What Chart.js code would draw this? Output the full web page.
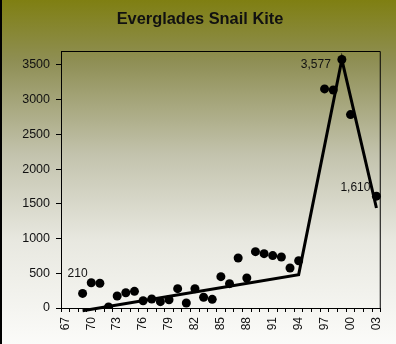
<!DOCTYPE html>
<html>
<head>
<meta charset="utf-8">
<script src="https://cdn.jsdelivr.net/npm/chart.js@4/dist/chart.umd.min.js"></script>
<style>
  html, body { margin: 0; padding: 0; background: #fff; }
  #wrap { width: 396px; height: 344px; }
</style>
</head>
<body>
<div id="wrap"><canvas id="myChart" width="396" height="344"></canvas></div>
<script>
// years 1967 - 2003, shown as two digits
const years = ["67","68","69","70","71","72","73","74","75","76","77","78","79",
  "80","81","82","83","84","85","86","87","88","89","90","91","92","93","94",
  "95","96","97","98","99","00","01","02","03"];

// kite counts (null = no survey)
const kiteCounts = [null, null, 210, 364, 356, 15, 173, 220, 240, 105, 130, 91, 118,
  278, 72, 278, 154, 125, 451, 350, 720, 432, 811, 782, 755, 734, 576, 681,
  null, null, 3154, 3139, 3577, 2784, null, null, 1610];

// trend line, only at its break points
const trendLine = [null, null, -40, null, null, null, null, null, null, null, null, null, null,
  null, null, null, null, null, null, null, null, null, null, null, null, null, null, 480,
  null, null, null, null, 3577, null, null, null, 1440];

const yTicks = [0, 500, 1000, 1500, 2000, 2500, 3000, 3500];

const chartTitle = "Everglades Snail Kite";

// labelled points: index into years, text
const pointLabels = [
  { i: 2, text: "210", dx: -5, dy: -20, align: "center" },
  { i: 32, text: "3,577", dx: -11, dy: 5, align: "right" },
  { i: 36, text: "1,610", dx: -6, dy: -8, align: "right" },
];

const chart = document.getElementById("myChart");
const FONT = "Arial, 'Liberation Sans', sans-serif";

const backdrop = {
  id: "backdrop",
  beforeDraw(c) {
    const ctx = c.ctx;
    const g = ctx.createLinearGradient(0, 0, 0, c.height);
    g.addColorStop(0, "#7f7f12");
    g.addColorStop(0.18, "#8f8f55");
    g.addColorStop(0.45, "#c3c3ad");
    g.addColorStop(0.7, "#e8e8e0");
    g.addColorStop(1, "#fbfbf9");
    ctx.save();
    ctx.fillStyle = g;
    ctx.fillRect(0, 0, c.width, c.height);
    ctx.fillStyle = "#000";
    ctx.fillRect(0, 0, 2, c.height);
    // title
    ctx.font = "bold 16.4px " + FONT;
    ctx.fillStyle = "#111";
    ctx.textAlign = "center";
    ctx.textBaseline = "middle";
    ctx.fillText(chartTitle, 200, 19);
    ctx.restore();
  },
  afterDatasetsDraw(c) {
    const ctx = c.ctx;
    const a = c.chartArea;
    ctx.save();
    ctx.strokeStyle = "#000";
    ctx.lineWidth = 1;
    ctx.beginPath();
    ctx.moveTo(a.left + 0.5, a.top + 0.5);
    ctx.lineTo(a.right - 0.5, a.top + 0.5);
    ctx.lineTo(a.right - 0.5, a.bottom);
    ctx.stroke();
    // point labels
    const meta = c.getDatasetMeta(0);
    ctx.font = "12px " + FONT;
    ctx.fillStyle = "#111";
    ctx.textBaseline = "middle";
    pointLabels.forEach((p) => {
      const el = meta.data[p.i];
      ctx.textAlign = p.align;
      ctx.fillText(p.text, el.x + p.dx, el.y + p.dy);
    });
    ctx.restore();
  },
};

new Chart(chart, {
  type: "line",
  data: {
    labels: years,
    datasets: [
      {
        label: "Snail kites",
        data: kiteCounts,
        showLine: false,
        pointStyle: "circle",
        pointRadius: 4.5,
        pointBackgroundColor: "#000",
        pointBorderColor: "#000",
        pointBorderWidth: 0,
        order: 0,
      },
      {
        label: "Trend",
        data: trendLine,
        spanGaps: true,
        borderColor: "#000",
        borderWidth: 3,
        pointRadius: 0,
        tension: 0,
        clip: false,
        order: 1,
      },
    ],
  },
  plugins: [backdrop],
  options: {
    responsive: false,
    animation: false,
    events: [],
    layout: { padding: { left: 0, right: 12, top: 51, bottom: 0 } },
    plugins: {
      legend: { display: false },
      tooltip: { enabled: false },
      title: { display: false },
    },
    scales: {
      x: {
        type: "category",
        offset: true,
        grid: {
          display: true,
          offset: true,
          drawOnChartArea: false,
          drawTicks: true,
          tickLength: 4,
          color: "#000",
        },
        border: { display: true, color: "#000", width: 1 },
        ticks: {
          autoSkip: false,
          maxRotation: 90,
          minRotation: 90,
          padding: 5,
          color: "#111",
          font: { family: FONT, size: 12 },
          callback: (v, i) => (i % 3 === 0 ? years[i] : ""),
        },
        afterFit: (axis) => { axis.height = 36; },
      },
      y: {
        min: 0,
        max: 3700,
        grid: {
          display: true,
          drawOnChartArea: false,
          drawTicks: true,
          tickLength: 5,
          color: "#000",
        },
        border: { display: true, color: "#000", width: 1 },
        ticks: {
          stepSize: 500,
          padding: 6,
          color: "#111",
          font: { family: FONT, size: 12.5 },
          callback: (v) => String(v),
        },
        afterBuildTicks: (axis) => {
          axis.ticks = yTicks.map((v) => ({ value: v }));
        },
        afterFit: (axis) => { axis.width = 61; },
      },
    },
  },
});
</script>
</body>
</html>
